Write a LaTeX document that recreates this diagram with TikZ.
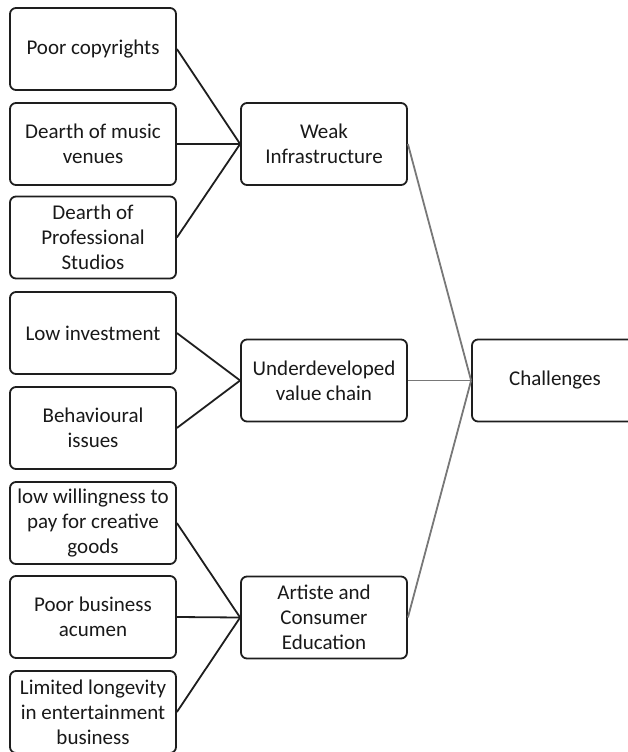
\documentclass[tikz,border=0pt]{standalone}
\usepackage{fontspec}
\setmainfont{Carlito}
\usepackage{tikz}
\usetikzlibrary{positioning}
\definecolor{linkgray}{RGB}{120,120,120}
\definecolor{boxline}{RGB}{30,30,30}

\begin{document}
\begin{tikzpicture}[x=1pt, y=-1pt,
    box/.style={draw=boxline, line width=1.8pt, rounded corners=6pt, fill=white,
        minimum width=166pt, minimum height=82pt, align=center, inner sep=2pt,
        text=black!90, font=\fontsize{21}{25}\selectfont},
    leftlink/.style={draw=boxline, line width=1.8pt},
    rightlink/.style={draw=linkgray, line width=1.8pt}]
    \useasboundingbox (0,0) rectangle (628,752);
    \clip (0,0) rectangle (628,752);

    % causes (left column)
    \node[box] (copy)   at (93,49)    {Poor copyrights};
    \node[box] (venue)  at (93,144)   {Dearth of music\\venues};
    \node[box] (studio) at (93,237.5) {Dearth of\\Professional\\Studios};
    \node[box] (invest) at (93,333)   {Low investment};
    \node[box] (behave) at (93,428)   {Behavioural\\issues};
    \node[box] (pay)    at (93,523)   {low willingness to\\pay for creative\\goods};
    \node[box] (acumen) at (93,617)   {Poor business\\acumen};
    \node[box] (long)   at (93,712)   {Limited longevity\\in entertainment\\business};

    % groups (middle column)
    \node[box] (infra) at (324,144)   {Weak\\Infrastructure};
    \node[box] (chain) at (324,380.5) {Underdeveloped\\value chain};
    \node[box] (educ)  at (324,617.5) {Artiste and\\Consumer\\Education};

    % root
    \node[box] (chal) at (555,380.5) {Challenges};

    % links
    \foreach \c in {copy, venue, studio}
        \draw[leftlink] (\c.east) -- (infra.west);
    \foreach \c in {invest, behave}
        \draw[leftlink] (\c.east) -- (chain.west);
    \foreach \c in {pay, acumen, long}
        \draw[leftlink] (\c.east) -- (educ.west);
    \foreach \g in {infra, chain, educ}
        \draw[rightlink] (\g.east) -- (chal.west);
\end{tikzpicture}
\end{document}
